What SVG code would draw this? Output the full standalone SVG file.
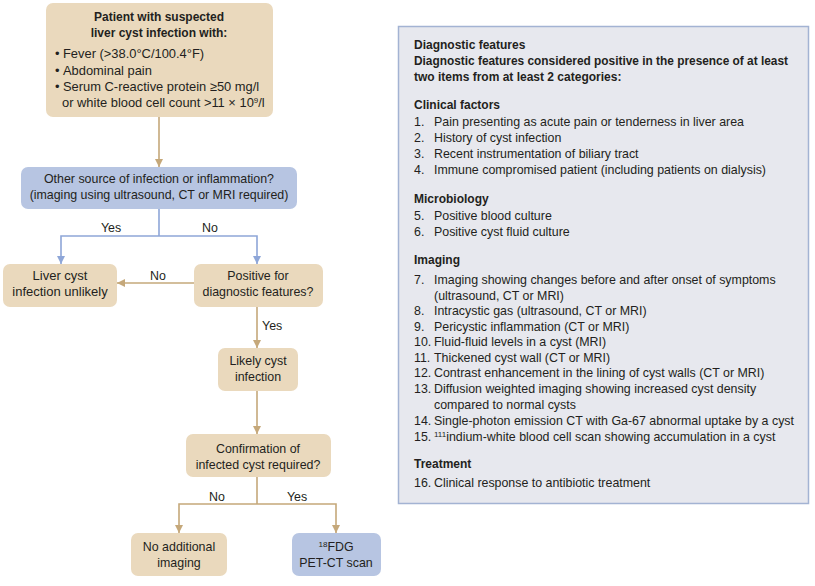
<svg xmlns="http://www.w3.org/2000/svg" width="815" height="586" viewBox="0 0 815 586">
<style>
text{font-family:"Liberation Sans",Arial,sans-serif;font-size:12.4px;fill:#231f20}
.b{font-weight:bold;font-size:12px}
.c{text-anchor:middle}
.tan{fill:#ead9bd}
.blue{fill:#b7c5e2}
.lt{fill:none;stroke:#c5a87a;stroke-width:1.6}
.lb{fill:none;stroke:#8ea6d8;stroke-width:1.6}
</style>
<defs>
<marker id="at" markerUnits="userSpaceOnUse" markerWidth="8" markerHeight="8" refX="8" refY="4" orient="auto"><path d="M0,0L8,4L0,8z" fill="#c5a87a"/></marker>
<marker id="ab" markerUnits="userSpaceOnUse" markerWidth="8" markerHeight="8" refX="8" refY="4" orient="auto"><path d="M0,0L8,4L0,8z" fill="#8ea6d8"/></marker>
</defs>
<rect width="815" height="586" fill="#ffffff"/>

<g id="connectors">
<path class="lt" d="M159,117V167" marker-end="url(#at)"/>
<path class="lb" d="M159,209V236"/>
<path class="lb" d="M159,236H61V264" marker-end="url(#ab)"/>
<path class="lb" d="M159,236H257V264" marker-end="url(#ab)"/>
<path class="lt" d="M194,283H117" marker-end="url(#at)"/>
<path class="lt" d="M257,307V348" marker-end="url(#at)"/>
<path class="lt" d="M257,391V434" marker-end="url(#at)"/>
<path class="lt" d="M257,477V504"/>
<path class="lt" d="M257,504H179V533" marker-end="url(#at)"/>
<path class="lt" d="M257,504H336V533" marker-end="url(#at)"/>
<text x="111" y="232" class="c">Yes</text>
<text x="210" y="232" class="c">No</text>
<text x="158" y="280" class="c">No</text>
<text x="262" y="330">Yes</text>
<text x="217" y="501" class="c">No</text>
<text x="297" y="501" class="c">Yes</text>
</g>

<g id="patient">
<rect class="tan" x="46" y="3" width="227" height="114" rx="7"/>
<text x="159" y="21" class="b c">Patient with suspected</text>
<text x="159" y="37" class="b c">liver cyst infection with:</text>
<g style="font-size:12.9px">
<text x="55" y="58" style="font-size:12.9px">•</text><text x="63" y="58" style="font-size:12.9px">Fever (&gt;38.0°C/100.4°F)</text>
<text x="55" y="75" style="font-size:12.9px">•</text><text x="63" y="75" style="font-size:12.9px">Abdominal pain</text>
<text x="55" y="91" style="font-size:12.9px">•</text><text x="63" y="91" style="font-size:12.9px">Serum C-reactive protein ≥50 mg/l</text>
<text x="62" y="107" style="font-size:12.9px">or white blood cell count &gt;11 × 10<tspan font-size="8" dy="-4">9</tspan><tspan dy="4">/l</tspan></text>
</g>
</g>

<g id="other-source">
<rect class="blue" x="21" y="167" width="276" height="42" rx="7"/>
<text x="159" y="183" class="c">Other source of infection or inflammation?</text>
<text x="159" y="199" class="c">(imaging using ultrasound, CT or MRI required)</text>
</g>

<g id="unlikely">
<rect class="tan" x="3" y="264" width="114" height="43" rx="7"/>
<text x="60" y="280" class="c" style="font-size:13px">Liver cyst</text>
<text x="60" y="296" class="c" style="font-size:13px">infection unlikely</text>
</g>

<g id="positive">
<rect class="tan" x="194" y="264" width="129" height="43" rx="7"/>
<text x="258" y="280" class="c">Positive for</text>
<text x="258" y="296" class="c">diagnostic features?</text>
</g>

<g id="likely">
<rect class="tan" x="218" y="348" width="80" height="43" rx="7"/>
<text x="258" y="365" class="c">Likely cyst</text>
<text x="258" y="381" class="c">infection</text>
</g>

<g id="confirmation">
<rect class="tan" x="186" y="434" width="145" height="43" rx="7"/>
<text x="258" y="453" class="c">Confirmation of</text>
<text x="258" y="469" class="c">infected cyst required?</text>
</g>

<g id="no-imaging">
<rect class="tan" x="131" y="533" width="96" height="43" rx="7"/>
<text x="179" y="551" class="c">No additional</text>
<text x="179" y="567" class="c">imaging</text>
</g>

<g id="pet-ct">
<rect class="blue" x="292" y="533" width="89" height="43" rx="7"/>
<text x="336" y="551" class="c"><tspan font-size="8" dy="-4">18</tspan><tspan dy="4">FDG</tspan></text>
<text x="336" y="567" class="c">PET-CT scan</text>
</g>

<g id="diagnostic-features">
<rect x="398.5" y="26.5" width="410" height="477" fill="#e7e8ee" stroke="#a3b3d3" stroke-width="1.5"/>
<text x="414" y="49" class="b">Diagnostic features</text>
<text x="414" y="65" class="b" textLength="374" lengthAdjust="spacingAndGlyphs">Diagnostic features considered positive in the presence of at least</text>
<text x="414" y="81" class="b">two items from at least 2 categories:</text>

<text x="414" y="109" class="b">Clinical factors</text>
<text x="414" y="126">1.</text><text x="434" y="126">Pain presenting as acute pain or tenderness in liver area</text>
<text x="414" y="142">2.</text><text x="434" y="142">History of cyst infection</text>
<text x="414" y="158">3.</text><text x="434" y="158">Recent instrumentation of biliary tract</text>
<text x="414" y="174">4.</text><text x="434" y="174">Immune compromised patient (including patients on dialysis)</text>

<text x="414" y="203" class="b">Microbiology</text>
<text x="414" y="220">5.</text><text x="434" y="220">Positive blood culture</text>
<text x="414" y="236">6.</text><text x="434" y="236">Positive cyst fluid culture</text>

<text x="414" y="264" class="b">Imaging</text>
<text x="414" y="284">7.</text><text x="434" y="284">Imaging showing changes before and after onset of symptoms</text>
<text x="434" y="300">(ultrasound, CT or MRI)</text>
<text x="414" y="315">8.</text><text x="434" y="315">Intracystic gas (ultrasound, CT or MRI)</text>
<text x="414" y="331">9.</text><text x="434" y="331">Pericystic inflammation (CT or MRI)</text>
<text x="414" y="346">10.</text><text x="434" y="346">Fluid-fluid levels in a cyst (MRI)</text>
<text x="414" y="362">11.</text><text x="434" y="362">Thickened cyst wall (CT or MRI)</text>
<text x="414" y="377">12.</text><text x="434" y="377">Contrast enhancement in the lining of cyst walls (CT or MRI)</text>
<text x="414" y="393">13.</text><text x="434" y="393">Diffusion weighted imaging showing increased cyst density</text>
<text x="434" y="409">compared to normal cysts</text>
<text x="414" y="425">14.</text><text x="434" y="425">Single-photon emission CT with Ga-67 abnormal uptake by a cyst</text>
<text x="414" y="441">15.</text><text x="434" y="441"><tspan font-size="8" dy="-4">111</tspan><tspan dy="4">indium-white blood cell scan showing accumulation in a cyst</tspan></text>

<text x="414" y="468" class="b">Treatment</text>
<text x="414" y="487">16.</text><text x="434" y="487">Clinical response to antibiotic treatment</text>
</g>
</svg>
